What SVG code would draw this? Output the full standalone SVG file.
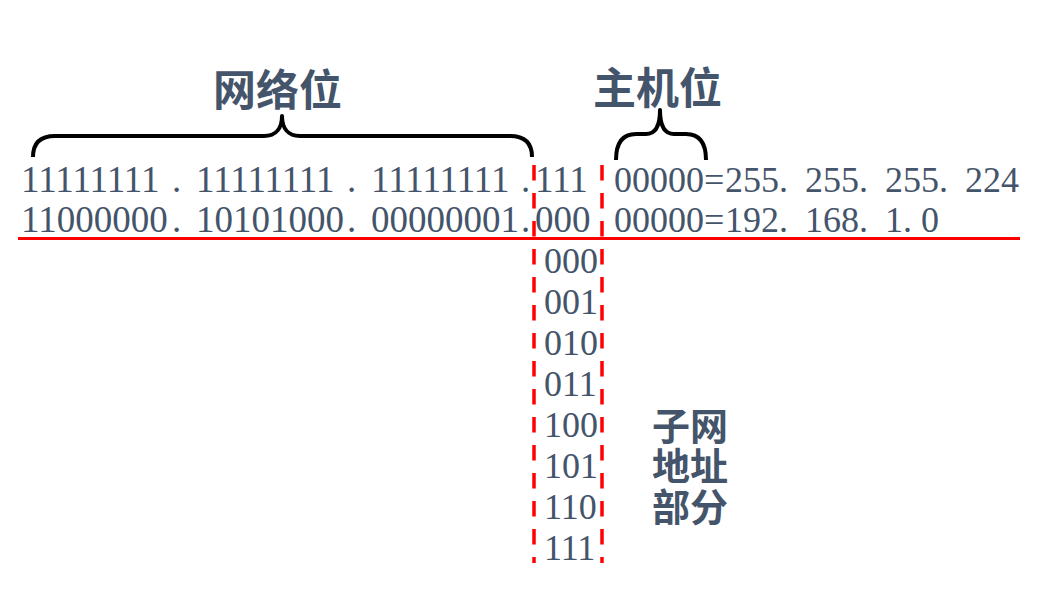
<svg xmlns="http://www.w3.org/2000/svg" width="1053" height="597" viewBox="0 0 1053 597">
<defs>
<style>
.num{font-family:"Liberation Serif","Times New Roman",serif;font-size:37px;fill:#44546A}
.rnum{font-family:"Liberation Serif","Times New Roman",serif;font-size:36px;fill:#44546A}
.sub{font-family:"Liberation Serif","Times New Roman",serif;font-size:36px;fill:#44546A}
.cjk{font-family:"Noto Sans CJK SC","Noto Sans",sans-serif;font-weight:bold;fill:#44546A;text-anchor:middle}
.brace{fill:none;stroke:#000;stroke-width:4;stroke-linecap:butt;stroke-linejoin:round}
.dash{fill:none;stroke:#FF0000;stroke-width:3.5;stroke-dasharray:15.5 12.5}
.red{fill:none;stroke:#FF0000;stroke-width:3}
</style>
</defs>
<rect width="1053" height="597" fill="#FFFFFF"/>
<g id="connectors">
<path class="brace" d="M33,157 C33,143 40,136 55,136 L264,136 C276,136 282,128 282,116 C282,128 288,136 300,136 L510,136 C525,136 532,143 532,157"/>
<path class="brace" d="M616,160 C616,143 622,134 636,134 L646,134 C655,134 660,126 660,110 C660,126 665,134 674,134 L686,134 C700,134 706,143 706,160"/>
<line class="red" x1="18" y1="238.5" x2="1020" y2="238.5"/>
<line class="dash" x1="534" y1="165" x2="534" y2="563"/>
<line class="dash" x1="602" y1="165" x2="602" y2="563"/>
</g>
<g id="label-network">
<text class="cjk" x="277.5" y="106" font-size="43">网络位</text>
</g>
<g id="label-host">
<text class="cjk" x="657.5" y="104" font-size="43">主机位</text>
</g>
<g id="mask-row">
<text class="num" y="192"><tspan x="21">11111111</tspan><tspan x="172">.</tspan><tspan x="196">11111111</tspan><tspan x="347">.</tspan><tspan x="371">11111111</tspan><tspan x="521">.</tspan><tspan x="535">111</tspan></text>
<text class="rnum" y="192"><tspan x="614">00000=</tspan><tspan x="725">255</tspan><tspan x="779">.</tspan><tspan x="805">255</tspan><tspan x="859">.</tspan><tspan x="885">255</tspan><tspan x="939">.</tspan><tspan x="965">224</tspan></text>
</g>
<g id="address-row">
<text class="num" y="232"><tspan x="21">11000000</tspan><tspan x="172">.</tspan><tspan x="196">10101000</tspan><tspan x="347">.</tspan><tspan x="371">00000001</tspan><tspan x="521">.</tspan><tspan x="535">000</tspan></text>
<text class="rnum" y="232"><tspan x="614">00000=</tspan><tspan x="725">192</tspan><tspan x="779">.</tspan><tspan x="805">168</tspan><tspan x="859">.</tspan><tspan x="885">1</tspan><tspan x="903">.</tspan><tspan x="921">0</tspan></text>
</g>
<g id="subnet-list">
<text class="sub" x="544" y="273">000</text>
<text class="sub" x="544" y="314">001</text>
<text class="sub" x="544" y="355">010</text>
<text class="sub" x="544" y="396">011</text>
<text class="sub" x="544" y="437">100</text>
<text class="sub" x="544" y="478">101</text>
<text class="sub" x="544" y="519">110</text>
<text class="sub" x="544" y="560">111</text>
</g>
<g id="label-subnet">
<text class="cjk" font-size="38"><tspan x="690" y="440">子网</tspan><tspan x="690" y="480">地址</tspan><tspan x="690" y="521">部分</tspan></text>
</g>
</svg>
